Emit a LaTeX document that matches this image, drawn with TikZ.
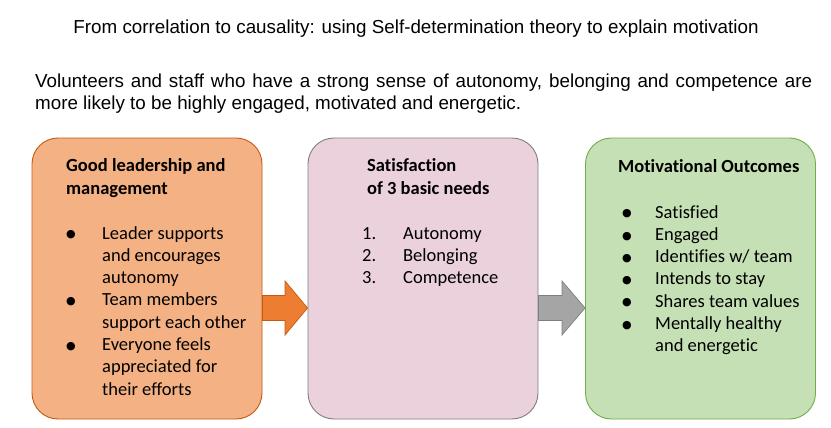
\documentclass[tikz,border=0pt]{standalone}
\usepackage{fontspec}
\setmainfont{Carlito}[Ligatures=NoCommon]
\newfontfamily\arialf{Liberation Sans}
\newfontfamily\dejavu{DejaVu Sans}
\usetikzlibrary{calc}
\definecolor{orfill}{HTML}{F4B183}
\definecolor{ordraw}{HTML}{C55A11}
\definecolor{pkfill}{HTML}{EAD1DC}
\definecolor{pkdraw}{HTML}{7F7F7F}
\definecolor{grfill}{HTML}{C5E0B4}
\definecolor{grdraw}{HTML}{70AD47}
\definecolor{arrorange}{HTML}{ED7D31}
\definecolor{arrgray}{HTML}{A5A5A5}
\newcommand{\blt}{\raisebox{1.2pt}{\dejavu\fontsize{11}{11}\selectfont ●}}
\tikzset{
  box/.style={rectangle, rounded corners=26pt, minimum width=230pt, minimum height=281pt, line width=0.9pt, inner sep=0pt},
  txt/.style={anchor=base west, inner sep=0pt, font=\fontsize{18.5}{22.3}\selectfont},
  hdr/.style={anchor=base west, inner sep=0pt, align=left, font=\bfseries\fontsize{18.5}{22.3}\selectfont},
  sans/.style={inner sep=0pt, font=\arialf\fontsize{18.8}{22}\selectfont},
  blockarrow/.style={line width=0.7pt, line join=miter}
}
\begin{document}
\begin{tikzpicture}[x=1pt,y=-1pt]
\useasboundingbox[fill=white] (0,0) rectangle (831,428);

\node[sans, anchor=base] (title) at (416,34) {From correlation to causality: using Self-determination theory to explain motivation};
\node[sans, anchor=base west] (sub1) at (35,88) {\makebox[777pt][s]{Volunteers and staff who have a strong sense of autonomy, belonging and competence are}};
\node[sans, anchor=base west] (sub2) at (35,110) {more likely to be highly engaged, motivated and energetic.};

\node[box, fill=orfill, draw=ordraw] (b1) at (147,278.5) {};
\node[box, fill=pkfill, draw=pkdraw] (b2) at (423,278.5) {};
\node[box, fill=grfill, draw=grdraw] (b3) at (700.5,278.5) {};

\node[hdr] (h1) at (66,194) {Good leadership and\\management};
\node[txt] (l1) at (66,239) {\begin{tabular}[t]{@{}p{36pt}@{}l@{}}
\blt & Leader supports\\
 & and encourages\\
 & autonomy\\
\blt & Team members\\
 & support each other\\
\blt & Everyone feels\\
 & appreciated for\\
 & their efforts
\end{tabular}};

\node[hdr] (h2) at (367,194) {Satisfaction\\of 3 basic needs};
\node[txt] (l2) at (362,239) {\begin{tabular}[t]{@{}p{41pt}@{}l@{}}
1. & Autonomy\\
2. & Belonging\\
3. & Competence
\end{tabular}};

\node[hdr] (h3) at (618,172) {Motivational Outcomes};
\node[txt] (l3) at (622,218) {\begin{tabular}[t]{@{}p{33pt}@{}l@{}}
\blt & Satisfied\\
\blt & Engaged\\
\blt & Identifies w/ team\\
\blt & Intends to stay\\
\blt & Shares team values\\
\blt & Mentally healthy\\
 & and energetic
\end{tabular}};

\draw[blockarrow, fill=arrorange, draw=ordraw]
  (b1.east |- 0,295.5) -- (285,295.5) -- (285,281) -- (b2.west |- 0,308)
  -- (285,335) -- (285,320.5) -- (b1.east |- 0,320.5) -- cycle;
\draw[blockarrow, fill=arrgray, draw=pkdraw]
  (b2.east |- 0,295.5) -- (562,295.5) -- (562,281) -- (b3.west |- 0,308)
  -- (562,335) -- (562,320.5) -- (b2.east |- 0,320.5) -- cycle;
\end{tikzpicture}
\end{document}
